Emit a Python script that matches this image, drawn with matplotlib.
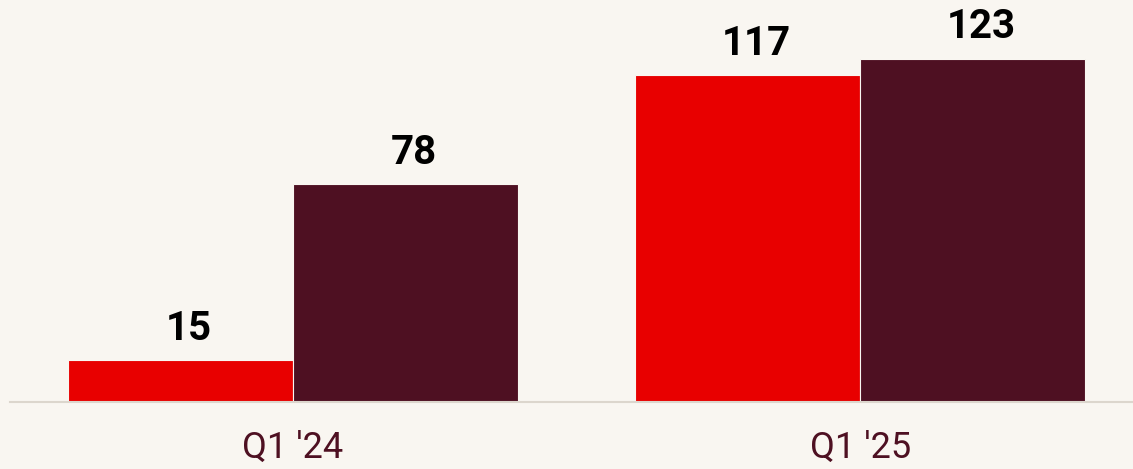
import numpy as np
import matplotlib.pyplot as plt

quarters = ["Q1 '24", "Q1 '25"]
series_a = [15, 117]
series_b = [78, 123]

bg = '#f9f6f1'
red = '#e80000'
maroon = '#4e1022'

plt.rcParams['font.family'] = ['Roboto', 'DejaVu Sans']

fig = plt.figure(figsize=(11.33, 4.69), dpi=100)
fig.set_facecolor(bg)
ax = fig.add_axes([10 / 1133, 67 / 469, 1123 / 1133, 402 / 469])
ax.set_facecolor(bg)

x = np.arange(len(quarters))
w = 0.397
bars_a = ax.bar(x - w / 2, series_a, w, color=red, edgecolor=bg, linewidth=0.8)
bars_b = ax.bar(x + w / 2, series_b, w, color=maroon, edgecolor=bg, linewidth=0.8)

# bold values over each bar, nudged a little to the right
for bars in (bars_a, bars_b):
    for rect, v in zip(bars, bars.datavalues):
        ax.annotate(str(v), (rect.get_x() + rect.get_width() / 2, v),
                    xytext=(6, 9), textcoords='offset points',
                    ha='center', va='bottom', fontsize=29,
                    fontweight='bold', color='black')

ax.set_xlim(-0.499, 1.481)
ax.set_ylim(0, 144)
ax.set_xticks(x)
ax.set_xticklabels(quarters, fontsize=26, color=maroon)
ax.tick_params(axis='x', length=0, pad=20)
ax.set_yticks([])
for side in ['top', 'right', 'left']:
    ax.spines[side].set_visible(False)
ax.spines['bottom'].set_color('#dcd6cd')
ax.spines['bottom'].set_linewidth(1.5)

fig.savefig('out.png', dpi=100, facecolor=bg)
